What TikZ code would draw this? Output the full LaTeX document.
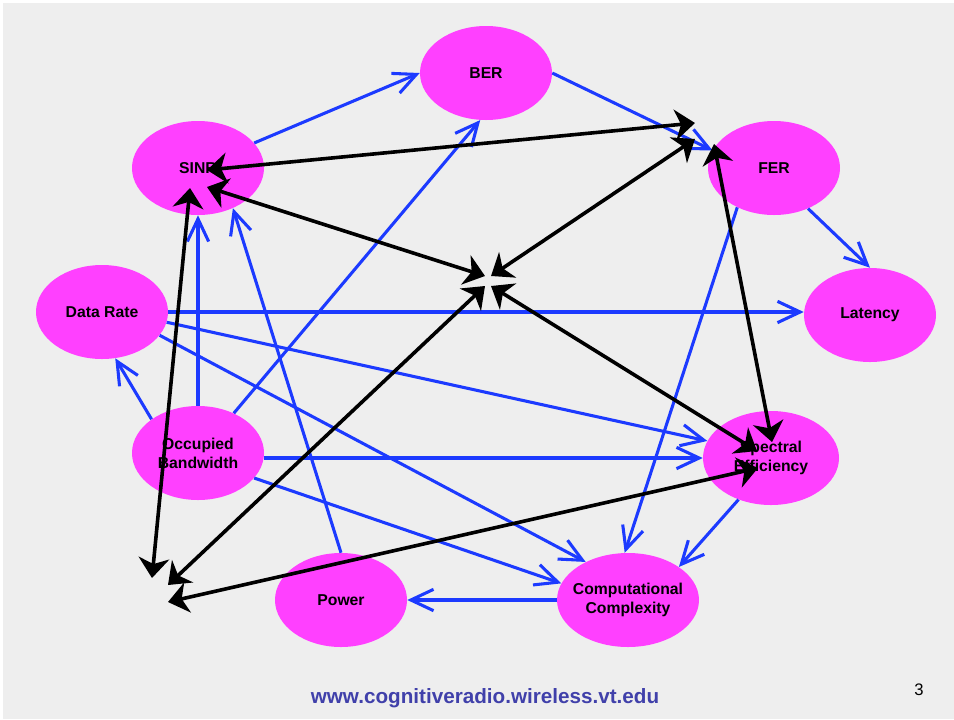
\documentclass[tikz,border=0pt]{standalone}
\usepackage{fontspec}
\setmainfont{Liberation Sans}
\usetikzlibrary{arrows.meta,shapes.geometric,calc}
\definecolor{mag}{RGB}{255,64,255}
\definecolor{lblue}{RGB}{28,58,255}
\definecolor{bgc}{RGB}{238,238,238}
\definecolor{urlc}{RGB}{64,64,170}
\begin{document}
\begin{tikzpicture}[x=0.75pt,y=-0.75pt,
  ell/.style={ellipse, fill=mag, draw=none, inner sep=0pt, minimum width=99pt, minimum height=70.5pt,
    font=\bfseries\fontsize{11.8}{14.25}\selectfont, align=center},
  bluearr/.style={draw=lblue, line width=2.3pt, -{Straight Barb[length=17pt,width=16pt]}},
  blkarr/.style={draw=black, line width=2.7pt, {Stealth[length=15pt,width=23pt,inset=4.5pt]}-{Stealth[length=15pt,width=23pt,inset=4.5pt]}}]
\useasboundingbox (0,0) rectangle (954,719);
\fill[white] (0,0) rectangle (954,719);
\fill[bgc] (3,3) rectangle (954,719);

\node[ell] (BER) at (486,73) {BER};
\node[ell] (SINR) at (198,168) {SINR};
\node[ell] (FER) at (774,168) {FER};
\node[ell] (DR) at (102,312) {Data Rate};
\node[ell] (LAT) at (870,315) {Latency};
\node[ell] (OB) at (198,453) {\makebox[0pt]{Occupied}\\\makebox[0pt]{Bandwidth}};
\node[ell, minimum width=102pt] (SE) at (771,458) {\makebox[0pt]{Spectral}\\\makebox[0pt]{Efficiency}};
\node[ell] (PWR) at (341,600) {Power};
\node[ell, minimum width=106.5pt] (CC) at (628,600) {\makebox[0pt]{Computational}\\\makebox[0pt]{Complexity}};

\draw[bluearr] (SINR.24) -- (BER.west);
\draw[bluearr] (BER.east) -- (FER.164);
\draw[bluearr] (FER.-50) -- (LAT.north);
\draw[bluearr] (DR.east) -- (LAT.west |- DR.east);
\draw[bluearr] (DR.-9) -- (SE.165);
\draw[bluearr] (DR.-22) -- (CC.138);
\draw[bluearr] (OB.144) -- (DR.-74);
\draw[bluearr] (OB.north) -- (SINR.south);
\draw[bluearr] (OB.48) -- (BER.-97);
\draw[bluearr] (OB.east |- SE.west) -- (SE.west);
\draw[bluearr] (OB.-24) -- (CC.166);
\draw[bluearr] (PWR.north) -- (SINR.-49);
\draw[bluearr] (CC.west) -- (PWR.east);
\draw[bluearr] (SE.-128) -- (CC.33);
\draw[bluearr] (FER.-133) -- (CC.94);

\coordinate (sA) at ($(SINR)+(9,2)$);
\coordinate (sB) at ($(SINR)+(9,19)$);
\coordinate (sC) at ($(SINR)+(-8,20)$);
\coordinate (fA) at (695,123);
\coordinate (fB) at (695,139);
\coordinate (fC) at ($(FER)+(-60,-24)$);
\coordinate (eA) at ($(SE)+(-14,-7)$);
\coordinate (eB) at ($(SE)+(1,-16)$);
\coordinate (eC) at ($(SE)+(-13,10)$);
\coordinate (cUL) at (485,276);
\coordinate (cUR) at (491,276);
\coordinate (cLL) at (485,286);
\coordinate (cLR) at (491,286);
\coordinate (bA) at (152,578);
\coordinate (bB) at (168,585);
\coordinate (bC) at (168,602);

\draw[blkarr] (sA) -- (fA);
\draw[blkarr] (sB) -- (cUL);
\draw[blkarr] (cUR) -- (fB);
\draw[blkarr] (cLR) -- (eA);
\draw[blkarr] (cLL) -- (bB);
\draw[blkarr] (sC) -- (bA);
\draw[blkarr] (fC) -- (eB);
\draw[blkarr] (bC) -- (eC);

\node[font=\bfseries\fontsize{15.5}{18}\selectfont, text=urlc] (url) at (485,698) {www.cognitiveradio.wireless.vt.edu};
\node[font=\fontsize{12.5}{15}\selectfont] (pg) at (919,690) {3};
\end{tikzpicture}
\end{document}
